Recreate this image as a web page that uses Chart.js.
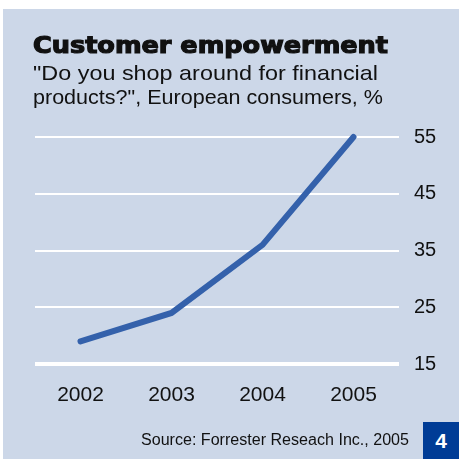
<!DOCTYPE html>
<html>
<head>
<meta charset="utf-8">
<script src="https://cdn.jsdelivr.net/npm/chart.js@4"></script>
<style>
  html, body { margin: 0; padding: 0; background: #fff; }
  #wrap { position: relative; width: 459px; height: 459px; overflow: hidden; }
  #panel { position: absolute; left: 3px; top: 9px; width: 456px; height: 450px; background: #ccd7e8; }
  #chart { position: absolute; left: 0; top: 0; }
  .txt { position: absolute; font-family: 'Liberation Sans', Arial, sans-serif; color: #111; white-space: nowrap; transform-origin: 0 0; }
  #title { left: 33px; top: 32px; font-family: 'DejaVu Sans', sans-serif; font-size: 23px; line-height: 26px; font-weight: bold; -webkit-text-stroke: 1.2px #111; }
  #sub1 { left: 33px; top: 61px; font-size: 21px; line-height: 24px; }
  #sub2 { left: 33px; top: 85px; font-size: 21px; line-height: 24px; }
  #source { left: 141px; top: 430px; font-size: 16px; line-height: 20px; }
  #badge { position: absolute; left: 423px; top: 422px; width: 36px; height: 37px; background: #003c96; color: #fff;
           font-family: 'Liberation Sans', Arial, sans-serif; font-weight: bold; font-size: 21px; text-align: center; line-height: 38px; }
</style>
</head>
<body>
<div id="wrap">
  <div id="panel"></div>
  <canvas id="chart" width="459" height="459"></canvas>
  <div class="txt" id="title" data-w="355">Customer empowerment</div>
  <div class="txt" id="sub1" data-w="345">"Do you shop around for financial</div>
  <div class="txt" id="sub2" data-w="350">products?", European consumers, %</div>
  <div class="txt" id="source" data-w="268">Source: Forrester Reseach Inc., 2005</div>
  <div id="badge">4</div>
</div>
<script>
'use strict';

var years = ['2002', '2003', '2004', '2005'];
var shoppers = [19, 24, 36, 55];
var yTicks = [15, 25, 35, 45, 55];

(function () {
  var fontFamily = "'Liberation Sans', Arial, sans-serif";

  // stretch the header texts to the widths seen in the original
  document.querySelectorAll('.txt[data-w]').forEach(function (el) {
    var w = el.getBoundingClientRect().width;
    var target = parseFloat(el.getAttribute('data-w'));
    el.style.transform = 'scaleX(' + (target / w) + ')';
  });

  new Chart(document.getElementById('chart'), {
    type: 'line',
    data: {
      labels: years,
      datasets: [{
        data: shoppers,
        borderColor: '#3461ab',
        borderWidth: 6,
        borderCapStyle: 'round',
        borderJoinStyle: 'miter',
        pointRadius: 0,
        tension: 0,
        clip: false
      }]
    },
    options: {
      responsive: false,
      animation: false,
      layout: { padding: { left: 35, top: 137, right: 0, bottom: 55 } },
      plugins: { legend: { display: false }, tooltip: { enabled: false } },
      scales: {
        x: {
          offset: true,
          grid: { display: false, drawTicks: false },
          border: { display: false },
          ticks: { color: '#111', padding: 19, font: { family: fontFamily, size: 21 } },
          afterFit: function (s) { s.height = 40; }
        },
        y: {
          position: 'right',
          min: yTicks[0],
          max: yTicks[yTicks.length - 1],
          afterBuildTicks: function (s) { s.ticks = yTicks.map(function (v) { return { value: v }; }); },
          grid: {
            color: '#ffffff',
            drawTicks: false,
            lineWidth: function (c) { return c.tick && c.tick.value === yTicks[0] ? 4 : 2; }
          },
          border: { display: false },
          ticks: { color: '#111', padding: 15, font: { family: fontFamily, size: 20 } },
          afterFit: function (s) { s.width = 60; }
        }
      }
    }
  });
})();
</script>
</body>
</html>
